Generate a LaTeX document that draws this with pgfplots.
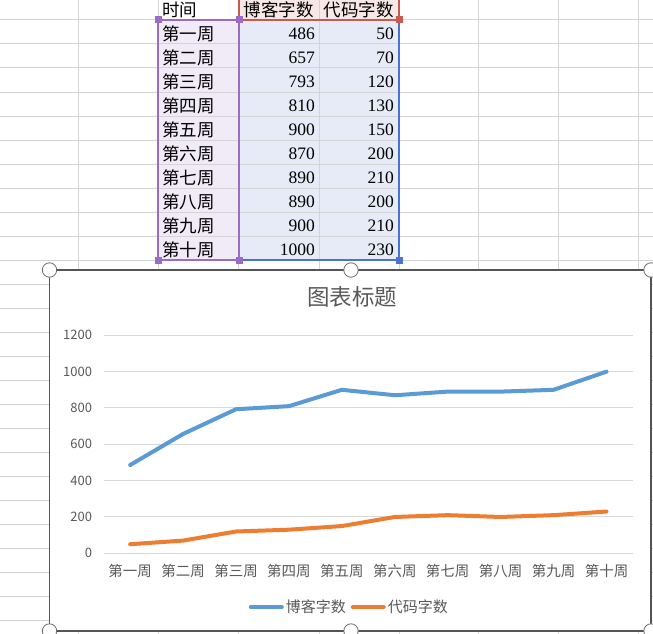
\documentclass[border=0pt]{standalone}
\usepackage{fontspec}
\usepackage{pgfplots}
\pgfplotsset{compat=1.18}
\setmainfont{Liberation Serif}
\newfontfamily\cjk{Noto Sans CJK SC}
\definecolor{gridc}{HTML}{D4D4D4}
\definecolor{lav}{HTML}{F0EBF6}
\definecolor{lblue}{HTML}{E6EBF7}
\definecolor{lpink}{HTML}{F8E8E5}
\definecolor{purp}{HTML}{9A6CC8}
\definecolor{redb}{HTML}{C55A52}
\definecolor{blueb}{HTML}{4A74CF}
\definecolor{txtgray}{HTML}{595959}
\definecolor{chartgrid}{HTML}{D9D9D9}
\definecolor{s1}{HTML}{5B9BD5}
\definecolor{s2}{HTML}{ED7D31}
\definecolor{framec}{HTML}{555555}
\begin{document}
\begin{tikzpicture}
\useasboundingbox (0pt,0pt) rectangle (653pt,-634pt);
\clip (0pt,0pt) rectangle (653pt,-634pt);
\begin{scope}[x=1pt,y=-1pt]
\fill[white] (0,0) rectangle (653,634);
\fill[lav] (158,20) rectangle (239,260);
\fill[lpink] (239,-5) rectangle (399,20);
\fill[lblue] (239,20) rectangle (399,260);
\foreach \gx in {78,158,238.5,319,399,478,558,638} \draw[gridc, line width=1pt] (\gx,0) -- (\gx,634);
\foreach \gy in {20,44,...,620} \draw[gridc, line width=1pt] (0,\gy) -- (653,\gy);
\draw[redb, line width=2.2pt] (239,-5) -- (239,20) -- (399,20) -- (399,-5);
\draw[blueb, line width=2.2pt] (239,260) -- (399,260) -- (399,20);
\draw[purp, line width=2.2pt] (158,20) rectangle (239,260);
\foreach \hx/\hy in {158/20,239/20,158/260,239/260} \fill[purp] (\hx-3.5,\hy-3.5) rectangle (\hx+3.5,\hy+3.5);
\fill[redb] (395.5,16.5) rectangle (402.5,23.5);
\fill[blueb] (395.5,256.5) rectangle (402.5,263.5);
\begin{scope}[every node/.style={inner sep=0pt, font=\cjk\fontsize{17.5}{17.5}\selectfont, text=black}]
\node[anchor=west] at (162,9.5) {时间};
\node[anchor=west] at (243.5,9.5) {博客字数};
\node[anchor=west] at (323.5,9.5) {代码字数};
\foreach \i/\w/\a/\b in {1/第一周/486/50, 2/第二周/657/70, 3/第三周/793/120, 4/第四周/810/130, 5/第五周/900/150, 6/第六周/870/200, 7/第七周/890/210, 8/第八周/890/200, 9/第九周/900/210, 10/第十周/1000/230} {
  \node[anchor=west] at (162,9.5+24*\i) {\w};
  \node[anchor=east, font=\fontsize{17.5}{17.5}\selectfont] at (315,10+24*\i) {\a};
  \node[anchor=east, font=\fontsize{17.5}{17.5}\selectfont] at (394,10+24*\i) {\b};
}
\end{scope}
\draw[framec, fill=white, line width=1.2pt] (49.5,270) rectangle (651,631);
\end{scope}
\begin{axis}[
  at={(103.7pt,-553.3pt)}, anchor=south west,
  scale only axis, width=529.3pt, height=218pt,
  xmin=-0.5, xmax=9.5, ymin=0, ymax=1200,
  xtick={0,...,9},
  xticklabels={第一周,第二周,第三周,第四周,第五周,第六周,第七周,第八周,第九周,第十周},
  ytick={0,200,...,1200},
  axis line style={draw=none},
  major tick length=0pt,
  ymajorgrids, grid style={chartgrid, line width=1pt},
  tick label style={text=txtgray},
  xticklabel style={font=\cjk\fontsize{14.5}{14.5}\selectfont, anchor=center, inner sep=0pt, yshift=-17.7pt},
  yticklabel style={font=\cjk\fontsize{13}{13}\selectfont, anchor=east, inner sep=0pt, xshift=-11.5pt},
  /pgf/number format/assume math mode=true,
  /pgf/number format/1000 sep={},
  legend columns=2,
  legend style={at={(0.464,-0.246)}, anchor=center, draw=none, fill=none, font=\cjk\fontsize{15}{15}\selectfont, text=txtgray, /tikz/every even column/.append style={column sep=3pt}},
  legend image code/.code={\draw[#1, line width=4pt, line cap=round] (0pt,0pt) -- (31pt,0pt);},
]
\addplot[s1, line width=4pt, line cap=round, line join=round, mark=none] coordinates {(0,486)(1,657)(2,793)(3,810)(4,900)(5,870)(6,890)(7,890)(8,900)(9,1000)};
\addlegendentry{博客字数}
\addplot[s2, line width=4pt, line cap=round, line join=round, mark=none] coordinates {(0,50)(1,70)(2,120)(3,130)(4,150)(5,200)(6,210)(7,200)(8,210)(9,230)};
\addlegendentry{代码字数}
\end{axis}
\begin{scope}[x=1pt,y=-1pt]
\node[font=\cjk\fontsize{22.5}{22.5}\selectfont, text=txtgray] at (352,297) {图表标题};
\foreach \hx/\hy in {49.5/270, 351/270, 651/270, 49.5/631, 351/631, 651/631} \draw[fill=white, draw=gray!85!black, line width=0.8pt] (\hx,\hy) circle (7.2);
\end{scope}
\end{tikzpicture}
\end{document}
